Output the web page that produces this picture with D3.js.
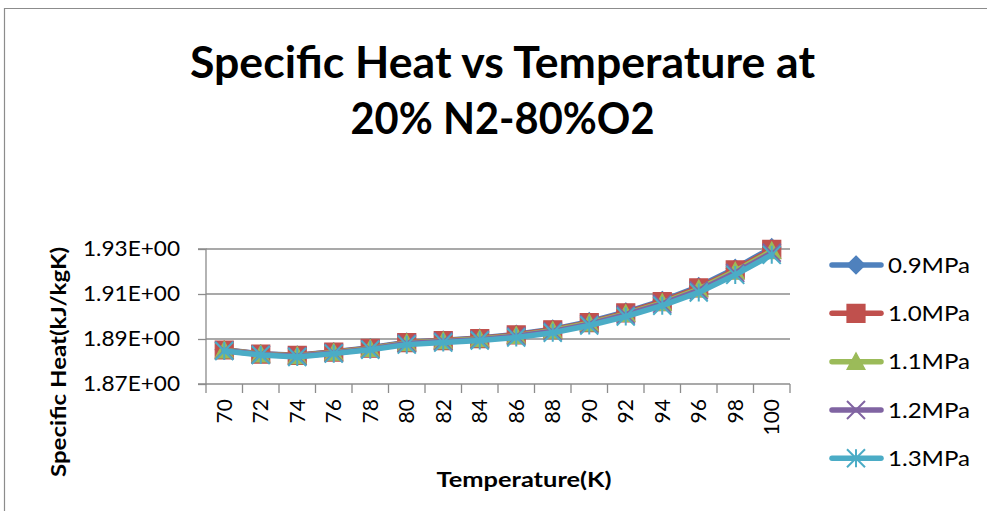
<!DOCTYPE html>
<html>
<head>
<meta charset="utf-8">
<script src="https://cdn.jsdelivr.net/npm/d3@7/dist/d3.min.js"></script>
<style>
  html, body { margin: 0; padding: 0; background: #fff; overflow: hidden; }
  svg { display: block; }
  text { font-family: Lato, "Open Sans", sans-serif; fill: #000; }
</style>
</head>
<body>
<svg id="chart" width="987" height="511"></svg>
<script>
// Temperatures (K) on the category axis
const temps = [70, 72, 74, 76, 78, 80, 82, 84, 86, 88, 90, 92, 94, 96, 98, 100];

// Specific heat (kJ/kgK) for each pressure
const cp09 = [1.8852, 1.8834, 1.8828, 1.8843, 1.8861, 1.8886, 1.8895, 1.8904, 1.8921, 1.8944, 1.8977, 1.9020, 1.9071, 1.9133, 1.9214, 1.9306];
const cp10 = [1.8851, 1.8833, 1.8827, 1.8842, 1.8859, 1.8884, 1.8893, 1.8902, 1.8918, 1.8941, 1.8973, 1.9016, 1.9066, 1.9127, 1.9207, 1.9298];
const cp11 = [1.8850, 1.8832, 1.8825, 1.8840, 1.8857, 1.8882, 1.8891, 1.8900, 1.8915, 1.8938, 1.8970, 1.9012, 1.9061, 1.9122, 1.9201, 1.9291];
const cp12 = [1.8849, 1.8831, 1.8823, 1.8838, 1.8855, 1.8880, 1.8889, 1.8897, 1.8912, 1.8934, 1.8966, 1.9008, 1.9056, 1.9116, 1.9194, 1.9283];
const cp13 = [1.8847, 1.8829, 1.8820, 1.8835, 1.8852, 1.8875, 1.8884, 1.8893, 1.8907, 1.8928, 1.8960, 1.9000, 1.9048, 1.9107, 1.9185, 1.9274];

const seriesNames = ["0.9MPa", "1.0MPa", "1.1MPa", "1.2MPa", "1.3MPa"];
const seriesValues = [cp09, cp10, cp11, cp12, cp13];

// Value axis ticks and their labels
const yTicks = [1.87, 1.89, 1.91, 1.93];
const yTickLabels = ["1.87E+00", "1.89E+00", "1.91E+00", "1.93E+00"];

const titleLines = ["Specific Heat vs Temperature at", "20% N2-80%O2"];
const xTitle = "Temperature(K)";
const yTitle = "Specific Heat(kJ/kgK)";

// Series styling
const colors = ["#4F81BD", "#C0504D", "#9BBB59", "#8064A2", "#4BACC6"];
const markerKinds = ["diamond", "square", "triangle", "x", "star"];

const svg = d3.select("#chart");
const gridColor = "#8c8c8c";

// Chart frame (top and left edges fall inside the view)
svg.append("path")
  .attr("d", "M4.5,520V8.5H1000")
  .attr("fill", "none")
  .attr("stroke", "#8c8c8c").attr("stroke-width", 1.2);

// Plot geometry
const plotLeft = 206, plotRight = 790, plotTop = 249, plotBottom = 384;

const x = d3.scaleBand().domain(temps).range([plotLeft, plotRight]).padding(0);
const y = d3.scaleLinear().domain([1.87, 1.93]).range([plotBottom, plotTop]);

// Horizontal gridlines
svg.append("g").selectAll("line")
  .data(yTicks.filter(v => v !== 1.87))
  .join("line")
  .attr("x1", plotLeft).attr("x2", plotRight)
  .attr("y1", d => y(d)).attr("y2", d => y(d))
  .attr("stroke", gridColor).attr("stroke-width", 1.3);

// Value axis
const yAxis = d3.axisLeft(y)
  .tickValues(yTicks)
  .tickSize(8)
  .tickPadding(18)
  .tickFormat((d, i) => yTickLabels[i]);
const gy = svg.append("g").attr("transform", `translate(${plotLeft},0)`).call(yAxis);
gy.select(".domain").attr("stroke", gridColor).attr("stroke-width", 1.3)
  .attr("d", `M-8,${y(1.93)}H0V${plotBottom}H-8`);
gy.selectAll(".tick line").attr("stroke", gridColor).attr("stroke-width", 1.3);
gy.selectAll(".tick text")
  .style("font-family", "Lato, sans-serif")
  .style("font-size", "21px")
  .attr("textLength", 97)
  .attr("lengthAdjust", "spacingAndGlyphs")
  .attr("fill", "#000");

// Category axis: line, boundary ticks, rotated labels
const gx = svg.append("g");
gx.append("line")
  .attr("x1", plotLeft).attr("x2", plotRight)
  .attr("y1", plotBottom).attr("y2", plotBottom)
  .attr("stroke", gridColor).attr("stroke-width", 1.3);
const boundaries = temps.map(t => x(t)).concat([x(temps[temps.length - 1]) + x.bandwidth()]);
gx.selectAll("line.tk")
  .data(boundaries)
  .join("line")
  .attr("class", "tk")
  .attr("x1", d => d).attr("x2", d => d)
  .attr("y1", plotBottom).attr("y2", plotBottom + 9)
  .attr("stroke", gridColor).attr("stroke-width", 1.3);
gx.selectAll("text")
  .data(temps)
  .join("text")
  .attr("transform", d => `translate(${x(d) + x.bandwidth() / 2},399) rotate(-90)`)
  .attr("text-anchor", "end")
  .attr("dy", "0.36em")
  .style("font-size", "21px")
  .text(d => d);

// Series: line then markers, in order
const line = d3.line()
  .x((d, i) => x(temps[i]) + x.bandwidth() / 2)
  .y(d => y(d));

function markerPath(kind, s) {
  const h = s / 2;
  const p = d3.path();
  if (kind === "diamond") {
    p.moveTo(0, -h); p.lineTo(h, 0); p.lineTo(0, h); p.lineTo(-h, 0); p.closePath();
  } else if (kind === "square") {
    p.rect(-h, -h, s, s);
  } else if (kind === "triangle") {
    p.moveTo(0, -h); p.lineTo(h, h * 0.85); p.lineTo(-h, h * 0.85); p.closePath();
  } else if (kind === "x") {
    p.moveTo(-h, -h); p.lineTo(h, h); p.moveTo(h, -h); p.lineTo(-h, h);
  } else {
    p.moveTo(-h, -h); p.lineTo(h, h); p.moveTo(h, -h); p.lineTo(-h, h);
    p.moveTo(0, -h); p.lineTo(0, h);
  }
  return p.toString();
}

function drawMarker(g, kind, color, size) {
  const filled = kind === "diamond" || kind === "square" || kind === "triangle";
  g.append("path")
    .attr("d", markerPath(kind, size))
    .attr("fill", filled ? color : "none")
    .attr("stroke", color)
    .attr("stroke-width", filled ? 1.2 : 2)
    .attr("stroke-linejoin", "miter");
}

const plot = svg.append("g");
seriesValues.forEach((vals, si) => {
  const g = plot.append("g");
  g.append("path")
    .datum(vals)
    .attr("d", line)
    .attr("fill", "none")
    .attr("stroke", colors[si])
    .attr("stroke-width", 5.5)
    .attr("stroke-linejoin", "round")
    .attr("stroke-linecap", "round");
  vals.forEach((v, i) => {
    const mg = g.append("g")
      .attr("transform", `translate(${x(temps[i]) + x.bandwidth() / 2},${y(v)})`);
    drawMarker(mg, markerKinds[si], colors[si], 18);
  });
});

// Legend
const legend = svg.append("g");
const legendY = [265, 313.3, 361.7, 410, 458.3];
seriesNames.forEach((name, i) => {
  const g = legend.append("g").attr("transform", `translate(0,${legendY[i]})`);
  g.append("line")
    .attr("x1", 832).attr("x2", 881)
    .attr("stroke", colors[i]).attr("stroke-width", 5.5)
    .attr("stroke-linecap", "round");
  const mg = g.append("g").attr("transform", "translate(856,0)");
  drawMarker(mg, markerKinds[i], colors[i], 18);
  g.append("text")
    .attr("x", 888).attr("y", 0).attr("dy", "0.36em")
    .attr("textLength", 82).attr("lengthAdjust", "spacingAndGlyphs")
    .style("font-size", "21px")
    .text(name);
});

// Titles
svg.selectAll("text.title")
  .data(titleLines)
  .join("text")
  .attr("class", "title")
  .attr("x", 502.5)
  .attr("y", (d, i) => [78, 134][i])
  .attr("text-anchor", "middle")
  .attr("textLength", (d, i) => [625, 304][i])
  .attr("lengthAdjust", "spacingAndGlyphs")
  .style("font-weight", "bold")
  .style("font-size", "44px")
  .text(d => d);

svg.append("text")
  .attr("x", 524).attr("y", 487)
  .attr("text-anchor", "middle")
  .attr("textLength", 175).attr("lengthAdjust", "spacingAndGlyphs")
  .style("font-weight", "bold")
  .style("font-size", "20px")
  .text(xTitle);

svg.append("text")
  .attr("transform", "translate(59,362) rotate(-90)")
  .attr("text-anchor", "middle")
  .attr("dy", "0.36em")
  .attr("textLength", 230).attr("lengthAdjust", "spacingAndGlyphs")
  .style("font-weight", "bold")
  .style("font-size", "20px")
  .text(yTitle);
</script>
</body>
</html>
